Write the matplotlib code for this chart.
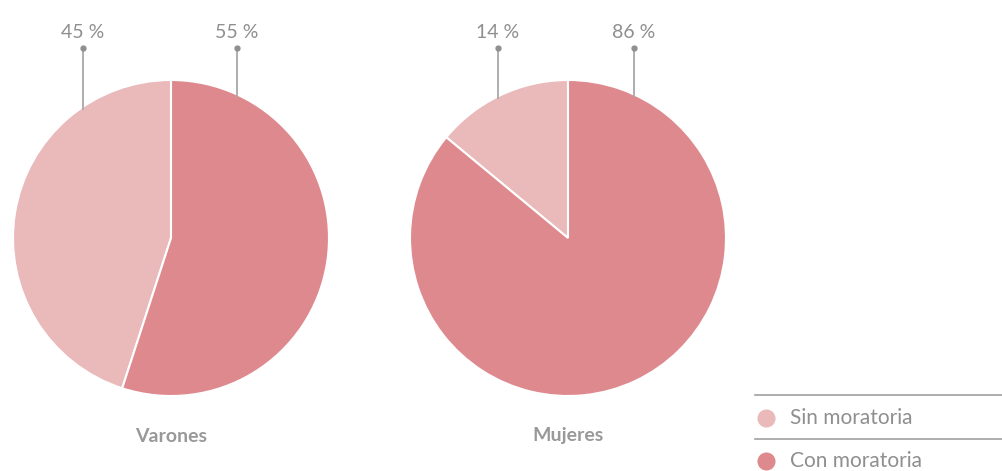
import matplotlib
matplotlib.use("Agg")
import matplotlib.pyplot as plt
import numpy as np

plt.rcParams['font.family'] = ['Lato', 'DejaVu Sans']

groups = ["Varones", "Mujeres"]
categories = ["Sin moratoria", "Con moratoria"]
sin_vals = [45, 14]
con_vals = [55, 86]
colors = ["#EAB9BA", "#DE898E"]

W, H = 1003, 471
fig = plt.figure(figsize=(W / 100, H / 100), dpi=100)
ax = fig.add_axes([0, 0, 1, 1])
ax.set_xlim(0, W)
ax.set_ylim(0, H)
ax.set_aspect('equal')
ax.axis('off')

centers_px = [(171, 238), (568, 238)]
R = 158
label_dx = [(-88, 66), (-70, 66)]
gray = "#8f8f8f"

def Y(y):
    return H - y

for i, g in enumerate(groups):
    cx, cy = centers_px[i]
    vals = [sin_vals[i], con_vals[i]]
    ax.pie(vals, colors=colors, startangle=90, counterclock=True,
           center=(cx, Y(cy)), radius=R,
           wedgeprops=dict(edgecolor='white', linewidth=1.5))
    for j, v in enumerate(vals):
        dx = label_dx[i][j]
        x = cx + dx
        y_edge = cy - np.sqrt(R ** 2 - dx ** 2) + 2
        ax.plot([x, x], [Y(48), Y(y_edge)], color="#a8a8a8", lw=1.3, zorder=5)
        ax.plot([x], [Y(48)], 'o', color=gray, ms=3.5, zorder=6)
        ax.text(x, Y(32), f"{v} %", ha='center', va='center', fontsize=14,
                color=gray)
    ax.text(cx, Y(436), g, ha='center', va='center', fontsize=14,
            fontweight='bold', color="#999999")

# legend
for k, (cat, col) in enumerate(zip(categories, colors)):
    yl = 395 + k * 44
    ax.plot([755, W], [Y(yl), Y(yl)], color="#a0a0a0", lw=1.2)
    ym = 418 + k * 43
    ax.plot([766], [Y(ym)], 'o', color=col, ms=12)
    ax.text(790, Y(ym), cat, ha='left', va='center', fontsize=15, color=gray)

ax.set_xlim(0, W)
ax.set_ylim(0, H)
fig.savefig("out.png", dpi=100)
